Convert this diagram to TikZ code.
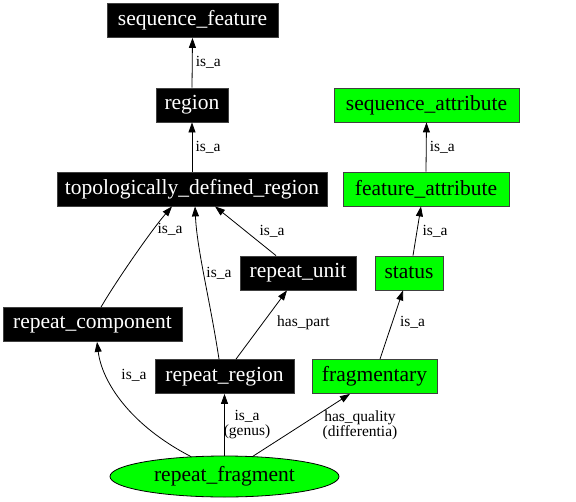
\documentclass[tikz,border=0pt]{standalone}
\usepackage{fontspec}
\setmainfont{Liberation Serif}
\usetikzlibrary{arrows.meta,shapes.geometric}
\definecolor{ngreen}{RGB}{0,255,0}
\newcommand{\nfont}{\fontsize{21.5}{24}\selectfont}
\newcommand{\lfont}{\fontsize{15.5}{15}\selectfont}
\begin{document}
\begin{tikzpicture}[x=1pt,y=-1pt,
  blk/.style={rectangle, fill=black, draw=black!75, line width=0.8pt, text=white, font=\nfont, minimum height=34pt, inner sep=0pt},
  grn/.style={rectangle, fill=ngreen, draw=black!75, line width=0.8pt, text=black, font=\nfont, minimum height=34pt, inner sep=0pt},
  edge/.style={line width=0.8pt, -{Triangle[length=10pt,width=7pt]}},
  lbl/.style={font=\lfont, inner sep=0pt, align=center, text=black}]
\useasboundingbox (0,0) rectangle (576,501);
% nodes
\node[blk, minimum width=171pt] (sf) at (192.5,20.5) {sequence\_feature};
\node[blk, minimum width=72pt] (reg) at (192,105) {region};
\node[blk, minimum width=270pt] (tdr) at (192,189) {topologically\_defined\_region};
\node[grn, minimum width=185pt] (sa) at (426.5,105) {sequence\_attribute};
\node[grn, minimum width=166pt] (fa) at (426,189) {feature\_attribute};
\node[blk, minimum width=116pt] (ru) at (298,273) {repeat\_unit};
\node[grn, minimum width=68pt] (st) at (409,273) {status};
\node[blk, minimum width=179pt] (rc) at (92.5,324.5) {repeat\_component};
\node[blk, minimum width=139pt] (rr) at (224.5,376.5) {repeat\_region};
\node[grn, minimum width=125pt] (fr) at (374.5,376.5) {fragmentary};
\node[ellipse, fill=ngreen, draw=black, line width=0.8pt, font=\nfont, minimum width=229pt, minimum height=41pt, inner sep=0pt] (rf) at (224.5,476.5) {repeat\_fragment};
% edges
\draw[edge] (reg.north) -- node[lbl, xshift=16pt] {is\_a} (sf.south);
\draw[edge] (tdr.north) -- node[lbl, xshift=16pt] {is\_a} (reg.south);
\draw[edge] (fa.north) -- node[lbl, xshift=16pt] {is\_a} (sa.south);
\draw[edge] ([xshift=-22pt]ru.north) -- node[lbl, xshift=26.5pt] {is\_a} ([xshift=23pt]tdr.south);
\draw[edge] ([xshift=-5.5pt]rr.north) .. controls (210,300) and (197,250) .. node[lbl, xshift=14.6pt, yshift=4pt] {is\_a} ([xshift=3pt]tdr.south);
\draw[edge] ([xshift=8.5pt]rc.north) .. controls (115,283) and (150,232) .. node[lbl, pos=0.75, xshift=16.5pt] {is\_a} ([xshift=-20pt]tdr.south);
\draw[edge] ([xshift=4pt]st.north) -- node[lbl, xshift=18pt] {is\_a} ([xshift=-5pt]fa.south);
\draw[edge] ([xshift=5.5pt]fr.north) -- node[lbl, xshift=21pt, yshift=2pt] {is\_a} ([xshift=-6pt]st.south);
\draw[edge] ([xshift=11.5pt]rr.north) -- node[lbl, xshift=42pt, yshift=2pt] {has\_part} ([xshift=-11pt]ru.south);
\draw[edge] ([xshift=-33.5pt,yshift=-1pt]rf.north) .. controls (130,425) and (102,382) .. node[lbl, pos=0.7, xshift=26pt, yshift=2.7pt] {is\_a} ([xshift=4.5pt]rc.south);
\draw[edge] (rf.north) -- node[lbl, xshift=22.5pt] {is\_a\\(genus)} (rr.south);
\draw[edge] ([xshift=28.5pt,yshift=-0.6pt]rf.north) -- node[lbl, xshift=58.5pt] {has\_quality\\(differentia)} ([xshift=-24.5pt]fr.south);
\end{tikzpicture}
\end{document}
